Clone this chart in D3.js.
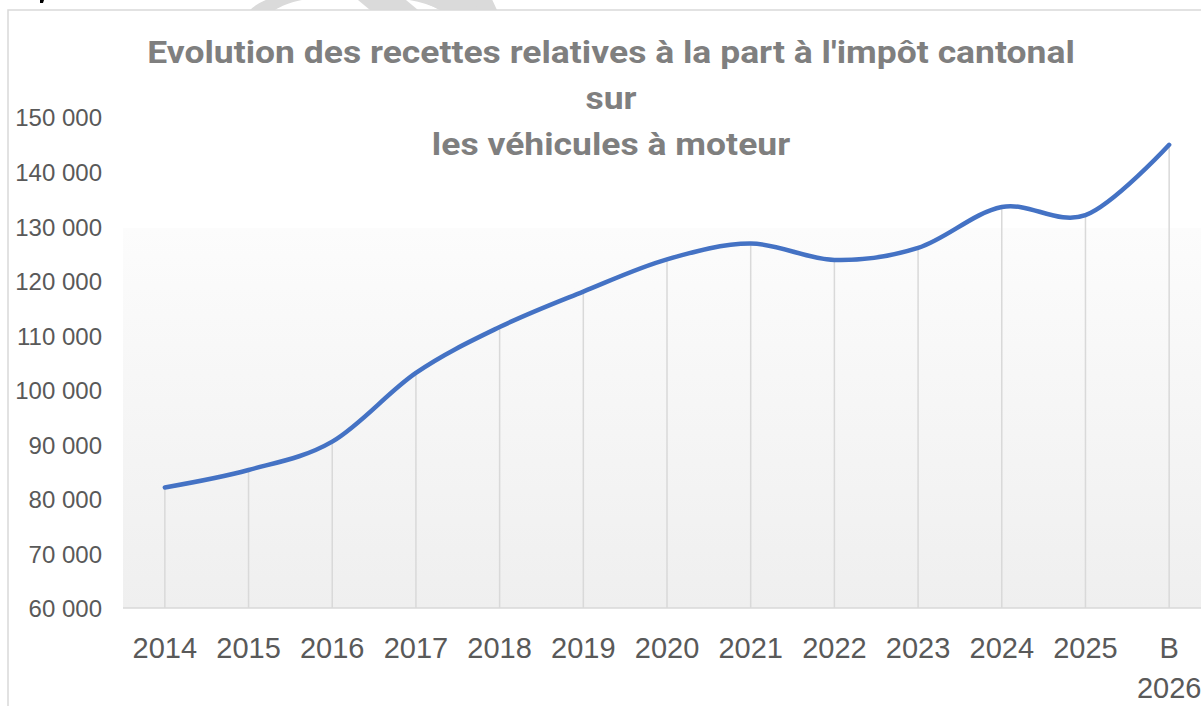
<!DOCTYPE html>
<html><head><meta charset="utf-8">
<script src="https://cdn.jsdelivr.net/npm/d3@7"></script>
<style>body{margin:0;background:#fff;overflow:hidden}svg{display:block}</style>
</head><body>
<svg id="c" width="1201" height="706"></svg>
<script>
const categories = ["2014","2015","2016","2017","2018","2019","2020","2021","2022","2023","2024","2025","B 2026"];
const values = [82100,85300,90500,103100,111500,118000,123900,126800,123800,126000,133500,132000,144900];
const yTicks = [60000,70000,80000,90000,100000,110000,120000,130000,140000,150000];
const titleLines = ["Evolution des recettes relatives à la part à l'impôt cantonal","sur","les véhicules à moteur"];

const svg = d3.select("#c");
const mL = 123, mR = 1211, mT = 117, mB = 608;

// watermark fragments above chart frame
const wm = svg.append("g").attr("fill","#dadada");
wm.append("path").attr("d","M250,10 C265,-5 300,-10 330,-12 L380,-12 C420,-10 450,0 460,10 L440,10 C425,2 405,-2 380,-3 L330,-3 C300,-2 285,4 275,10 Z");
wm.append("path").attr("d","M352,-5 L400,-5 L418,10 L370,10 Z");
wm.append("path").attr("d","M410,-5 L470,-5 L490,10 L440,10 Z");
wm.append("path").attr("d","M470,-5 L490,-5 L497,10 L478,10 Z");
// small black fragment at top-left (descender of cropped text)
svg.append("path").attr("d","M40,0 L44,0 L43,3 L40,3 Z").attr("fill","#000");

// chart frame
svg.append("rect").attr("x",8).attr("y",10).attr("width",1300).attr("height",800)
  .attr("fill","#fff").attr("stroke","#d9d9d9").attr("stroke-width",1.5);

const x = d3.scaleBand().domain(categories).range([mL,mR]).padding(0);
const y = d3.scaleLinear().domain([60000,150000]).range([mB,mT]);
const cx = d => x(d) + x.bandwidth()/2;

// plot area gradient
const defs = svg.append("defs");
const g = defs.append("linearGradient").attr("id","pa").attr("x1",0).attr("y1",0).attr("x2",0).attr("y2",1);
g.append("stop").attr("offset","0%").attr("stop-color","#ffffff");
g.append("stop").attr("offset","22.5%").attr("stop-color","#ffffff");
g.append("stop").attr("offset","22.6%").attr("stop-color","#fcfcfc");
g.append("stop").attr("offset","100%").attr("stop-color","#efefef");
svg.append("rect").attr("x",mL).attr("y",mT).attr("width",mR-mL).attr("height",mB-mT).attr("fill","url(#pa)");

// title (slightly condensed to match the reference face)
const tFs = 30.5;
const title = svg.append("g").attr("font-family","Roboto, 'Noto Sans', sans-serif").attr("font-weight",700).attr("fill","#7f7f7f").attr("text-anchor","middle");
const probe = title.append("text").attr("font-size",tFs).text(titleLines[0]);
const w0 = probe.node().getComputedTextLength();
probe.remove();
const sx = 928 / w0;
const baselines = [63,109,155];
titleLines.forEach((t,i)=>{
  title.append("text").attr("transform",`translate(611,${baselines[i]}) scale(${sx},1)`)
    .attr("font-size",tFs).text(t);
});

// drop lines
svg.append("g").selectAll("line").data(categories).join("line")
  .attr("x1",d=>cx(d)).attr("x2",d=>cx(d))
  .attr("y1",(d,i)=>y(values[i])).attr("y2",mB)
  .attr("stroke","#d9d9d9").attr("stroke-width",1.5);

// x axis line
svg.append("line").attr("x1",mL).attr("x2",mR).attr("y1",mB).attr("y2",mB)
  .attr("stroke","#d9d9d9").attr("stroke-width",1.5);

// y axis labels
const fmt = d3.formatLocale({decimal:",",thousands:" ",grouping:[3],currency:["",""]}).format(",");
const yAxis = d3.axisLeft(y).tickValues(yTicks).tickFormat(fmt).tickSize(0).tickPadding(0);
const ya = svg.append("g").attr("transform","translate(102,0)").call(yAxis);
ya.select(".domain").remove();
ya.selectAll("text").attr("font-family","Liberation Sans, Arial, sans-serif").attr("font-size",24).attr("fill","#595959").attr("dy","0.37em");

// x axis labels
const xAxis = d3.axisBottom(x).tickSize(0).tickPadding(0).tickFormat("");
const xa = svg.append("g").attr("transform",`translate(0,${mB})`).call(xAxis);
xa.select(".domain").remove();
xa.selectAll(".tick").each(function(d){
  const parts = d.split(" ");
  const t = d3.select(this).append("text").attr("font-family","Liberation Sans, Arial, sans-serif")
    .attr("font-size",29).attr("fill","#595959").attr("text-anchor","middle");
  parts.forEach((p,i)=>t.append("tspan").attr("x",0).attr("y",50 + i*40).text(p));
});

// line
const line = d3.line().x((d,i)=>cx(categories[i])).y(d=>y(d)).curve(d3.curveCardinal.tension(0));
svg.append("path").datum(values).attr("d",line).attr("fill","none")
  .attr("stroke","#4472c4").attr("stroke-width",4.5).attr("stroke-linecap","round").attr("stroke-linejoin","round");
</script>
</body></html>
